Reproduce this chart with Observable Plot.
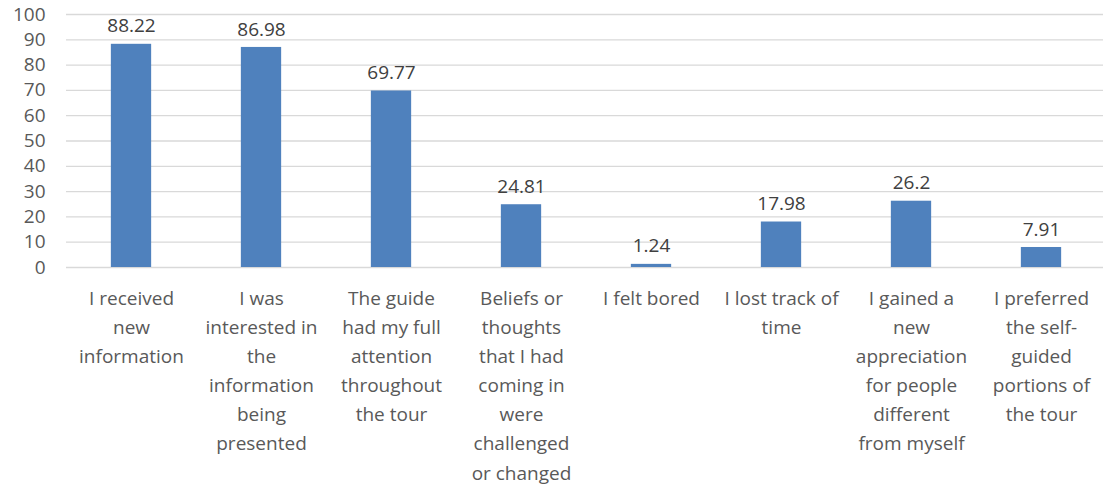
<!DOCTYPE html>
<html>
<head>
<meta charset="utf-8">
<script src="https://cdn.jsdelivr.net/npm/d3@7"></script>
<script src="https://cdn.jsdelivr.net/npm/@observablehq/plot@0.6"></script>
<style>
  html, body { margin: 0; padding: 0; background: #fff; overflow: hidden; }
  #chart svg { display: block; }
</style>
</head>
<body>
<div id="chart"></div>
<script>
const categories = [
  "I received\nnew\ninformation",
  "I was\ninterested in\nthe\ninformation\nbeing\npresented",
  "The guide\nhad my full\nattention\nthroughout\nthe tour",
  "Beliefs or\nthoughts\nthat I had\ncoming in\nwere\nchallenged\nor changed",
  "I felt bored",
  "I lost track of\ntime",
  "I gained a\nnew\nappreciation\nfor people\ndifferent\nfrom myself",
  "I preferred\nthe self-\nguided\nportions of\nthe tour"
];
const values = [88.22, 86.98, 69.77, 24.81, 1.24, 17.98, 26.2, 7.91];
const yTicks = [0, 10, 20, 30, 40, 50, 60, 70, 80, 90, 100];

const data = categories.map((c, i) => ({category: c, value: values[i]}));

const chart = Plot.plot({
  width: 1103,
  height: 487,
  marginLeft: 66,
  marginRight: -3,
  marginTop: 14,
  marginBottom: 220,
  style: {fontFamily: "'Open Sans', Lato, sans-serif", color: "#595959", background: "#fff"},
  x: {domain: categories, paddingInner: 0.69, paddingOuter: 0.345, round: false, label: null},
  y: {domain: [0, 100], ticks: yTicks, label: null},
  marks: [
    Plot.ruleY(yTicks, {stroke: "#d9d9d9", strokeWidth: 1.3}),
    Plot.barY(data, {x: "category", y: "value", fill: "#4f81bd"}),
    Plot.text(data, {x: "category", y: "value", text: d => String(d.value), dy: -18, fontSize: 19, fill: "#404040"}),
    Plot.axisY({ticks: yTicks, tickSize: 0, tickPadding: 21, fontSize: 19, fill: "#595959", label: null}),
    Plot.axisX({tickSize: 0, tickPadding: 17, fontSize: 19, lineHeight: 1.53, fill: "#595959", label: null})
  ]
});
document.getElementById("chart").appendChild(chart);
</script>
</body>
</html>
